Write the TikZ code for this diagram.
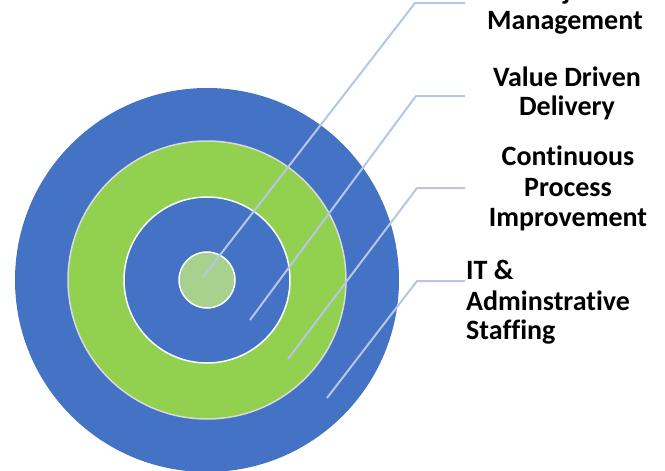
\documentclass[tikz,border=0pt]{standalone}
\usepackage{fontspec}
\setmainfont{Carlito}[Ligatures=NoCommon]
\definecolor{ringblue}{HTML}{4472C4}
\definecolor{ringgreen}{HTML}{92D050}
\definecolor{coregreen}{HTML}{A9D18E}
\definecolor{leader}{HTML}{B4C7E7}
\definecolor{ringedge}{HTML}{D9D9D9}
\tikzset{
  ring/.style={circle, inner sep=0pt, line width=1.5pt},
  leaderline/.style={draw=leader, line width=2pt},
  lbl/.style={font=\bfseries\fontsize{28}{30}\selectfont, inner sep=0pt, anchor=base}
}
\begin{document}
\begin{tikzpicture}[x=1pt,y=-1pt]
\useasboundingbox (0,0) rectangle (665,471);
\clip (0,0) rectangle (665,471);
\node[ring, fill=ringblue, minimum size=384pt] (outer) at (207,280) {};
\node[ring, fill=ringgreen, draw=ringedge, minimum size=278pt] (green) at (207,280) {};
\node[ring, fill=ringblue, draw=white, minimum size=166pt] (inner) at (207,280) {};
\node[ring, fill=coregreen, draw=white, minimum size=56pt] (core) at (207,280) {};
% leader lines
\coordinate (p1) at (203,277); \coordinate (k1) at (415,3);   \coordinate (e1) at (465,3);
\coordinate (p2) at (250,320); \coordinate (k2) at (416,96);  \coordinate (e2) at (465,96);
\coordinate (p3) at (288,359); \coordinate (k3) at (417,188); \coordinate (e3) at (465,188);
\coordinate (p4) at (327,398); \coordinate (k4) at (417,281); \coordinate (e4) at (465,281);
\draw[leaderline] (p1) -- (k1) -- (e1);
\draw[leaderline] (p2) -- (k2) -- (e2);
\draw[leaderline] (p3) -- (k3) -- (e3);
\draw[leaderline] (p4) -- (k4) -- (e4);
% labels
\node[lbl] (t1a) at (565,-1) {Project};
\node[lbl] (t1b) at (565,29) {Management};
\node[lbl] (t2a) at (567,86) {Value Driven};
\node[lbl] (t2b) at (567,115) {Delivery};
\node[lbl] (t3a) at (568,165) {Continuous};
\node[lbl] (t3b) at (568,196) {Process};
\node[lbl] (t3c) at (568,226) {Improvement};
\node[lbl, anchor=base west] (t4a) at (466,279) {IT \&};
\node[lbl, anchor=base west] (t4b) at (466,310) {Adminstrative};
\node[lbl, anchor=base west] (t4c) at (466,339) {Staffing};
\end{tikzpicture}
\end{document}
